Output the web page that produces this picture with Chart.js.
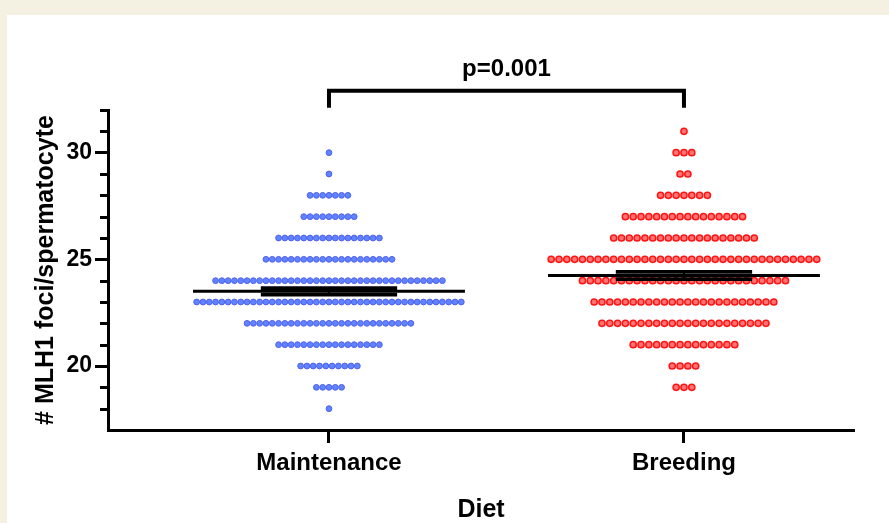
<!DOCTYPE html>
<html><head><meta charset="utf-8">
<script src="https://cdn.jsdelivr.net/npm/chart.js@4.4.0/dist/chart.umd.min.js"></script>
<style>html,body{margin:0;padding:0;background:#f5f1e2;overflow:hidden}canvas{display:block}</style>
</head><body>
<canvas id="c" width="889" height="523"></canvas>
<script>
// ---- data ----
const categories = ['Maintenance', 'Breeding'];
const maintValues = [18, 19, 20, 21, 22, 23, 24, 25, 26, 27, 28, 29, 30];
const maintCounts = [1, 5, 10, 17, 27, 43, 37, 21, 17, 9, 7, 1, 1];
const breedValues = [19, 20, 21, 22, 23, 24, 25, 26, 27, 28, 29, 30, 31];
const breedCounts = [3, 4, 14, 22, 24, 27, 35, 19, 16, 7, 2, 3, 1];
const yTickLabels = [20, 25, 30];
const pLabel = 'p=0.001';

// ---- helpers ----
const FONT = '"Liberation Sans", Arial, sans-serif';
function swarm(values, counts, center, spacing) {
  const pts = [];
  values.forEach((v, r) => {
    const n = counts[r];
    for (let i = 0; i < n; i++) pts.push({x: center + (i - (n - 1) / 2) * spacing, y: v});
  });
  return pts;
}
function stats(values, counts) {
  let n = 0, s = 0;
  values.forEach((v, i) => { n += counts[i]; s += v * counts[i]; });
  const m = s / n;
  let ss = 0;
  values.forEach((v, i) => { ss += counts[i] * (v - m) * (v - m); });
  const sd = Math.sqrt(ss / (n - 1));
  return {mean: m, sem: sd / Math.sqrt(n)};
}
const maintStats = stats(maintValues, maintCounts);
const breedStats = stats(breedValues, breedCounts);
const MEAN_HALF = 0.383, CAP_HALF = 0.192;
function seg(x0, x1, y0, y1) { return [{x: x0, y: y0}, {x: x1, y: y1}]; }
function lineDs(data, w) {
  return {type: 'line', data, borderColor: '#000', borderWidth: w, pointRadius: 0,
    fill: false, tension: 0, clip: false, order: 0, borderCapStyle: 'butt', borderJoinStyle: 'miter'};
}
const summaryDatasets = [];
[[0, maintStats], [1, breedStats]].forEach(([c, st]) => {
  summaryDatasets.push(lineDs(seg(c - MEAN_HALF, c + MEAN_HALF, st.mean, st.mean), 3));
  summaryDatasets.push(lineDs(seg(c - CAP_HALF, c + CAP_HALF, st.mean + st.sem, st.mean + st.sem), 3.8));
  summaryDatasets.push(lineDs(seg(c - CAP_HALF, c + CAP_HALF, st.mean - st.sem, st.mean - st.sem), 3.8));
  summaryDatasets.push(lineDs(seg(c, c, st.mean - st.sem, st.mean + st.sem), 2));
});
const bracket = lineDs([{x: 0, y: 32.1}, {x: 0, y: 32.9}, {x: 1, y: 32.9}, {x: 1, y: 32.1}], 4);

const bgPlugin = {
  id: 'bg',
  beforeDraw(chart) {
    const ctx = chart.ctx;
    ctx.save();
    ctx.fillStyle = '#f5f1e2';
    ctx.fillRect(0, 0, chart.width, chart.height);
    ctx.fillStyle = '#ffffff';
    ctx.fillRect(7, 15, chart.width - 7, chart.height - 15);
    ctx.restore();
  }
};
const extrasPlugin = {
  id: 'extras',
  afterDraw(chart) {
    const ctx = chart.ctx, y = chart.scales.y, x = chart.scales.x;
    ctx.save();
    ctx.strokeStyle = '#000';
    ctx.lineWidth = 3;
    for (let v = 18; v <= 32; v++) {
      if (v % 5 === 0) continue;
      const py = Math.round(y.getPixelForValue(v)) + 0.5;
      ctx.beginPath();
      ctx.moveTo(chart.chartArea.left - 8, py);
      ctx.lineTo(chart.chartArea.left, py);
      ctx.stroke();
    }
    ctx.fillStyle = '#000';
    ctx.font = 'bold 24px ' + FONT;
    ctx.textAlign = 'center';
    ctx.textBaseline = 'middle';
    ctx.fillText(pLabel, x.getPixelForValue(0.5), y.getPixelForValue(32.9) - 21);
    ctx.restore();
  }
};

new Chart(document.getElementById('c'), {
  type: 'scatter',
  data: {
    datasets: [
      ...summaryDatasets,
      bracket,
      {label: categories[0], data: swarm(maintValues, maintCounts, 0, 0.01775), order: 1,
        pointRadius: 2.9, borderWidth: 1, backgroundColor: 'rgb(95,132,255)', borderColor: 'rgb(82,96,235)'},
      {label: categories[1], data: swarm(breedValues, breedCounts, 1, 0.022), order: 1,
        pointRadius: 3.1, borderWidth: 1.5, backgroundColor: 'rgb(255,115,115)', borderColor: 'rgb(255,20,20)'}
    ]
  },
  options: {
    responsive: false,
    animation: false,
    events: [],
    layout: {padding: {left: 0, right: 35, top: 110, bottom: 0}},
    plugins: {legend: {display: false}, tooltip: {enabled: false}},
    scales: {
      x: {
        type: 'linear', min: -0.6225, max: 1.479,
        afterFit(s) { s.height = 93; },
        afterBuildTicks(s) { s.ticks = [{value: 0}, {value: 1}]; },
        grid: {drawOnChartArea: false, tickLength: 13, tickWidth: 3, tickColor: '#000'},
        border: {display: true, width: 3, color: '#000'},
        ticks: {autoSkip: false, maxRotation: 0, padding: 6, color: '#000',
          font: {family: FONT, size: 24, weight: 'bold'},
          callback: (v) => categories[v] !== undefined ? categories[v] : ''},
        title: {display: true, text: 'Diet', color: '#000', padding: {top: 0, bottom: 0},
          font: {family: FONT, size: 25, weight: 'bold', lineHeight: 1.0}}
      },
      y: {
        type: 'linear', min: 17, max: 32,
        afterFit(s) { s.width = 108; },
        grid: {drawOnChartArea: false, tickLength: 13, tickWidth: 3,
          tickColor: (c) => (c.tick && yTickLabels.includes(c.tick.value)) ? '#000' : 'rgba(0,0,0,0)'},
        border: {display: true, width: 3, color: '#000'},
        ticks: {stepSize: 1, autoSkip: false, padding: 3, color: '#000',
          font: {family: FONT, size: 23, weight: 'bold'},
          callback: (v) => yTickLabels.includes(v) ? String(v) : ''},
        title: {display: true, text: '# MLH1 foci/spermatocyte', color: '#000',
          padding: {top: 31, bottom: 0}, font: {family: FONT, size: 25, weight: 'bold'}}
      }
    }
  },
  plugins: [bgPlugin, extrasPlugin]
});
</script>
</body></html>
